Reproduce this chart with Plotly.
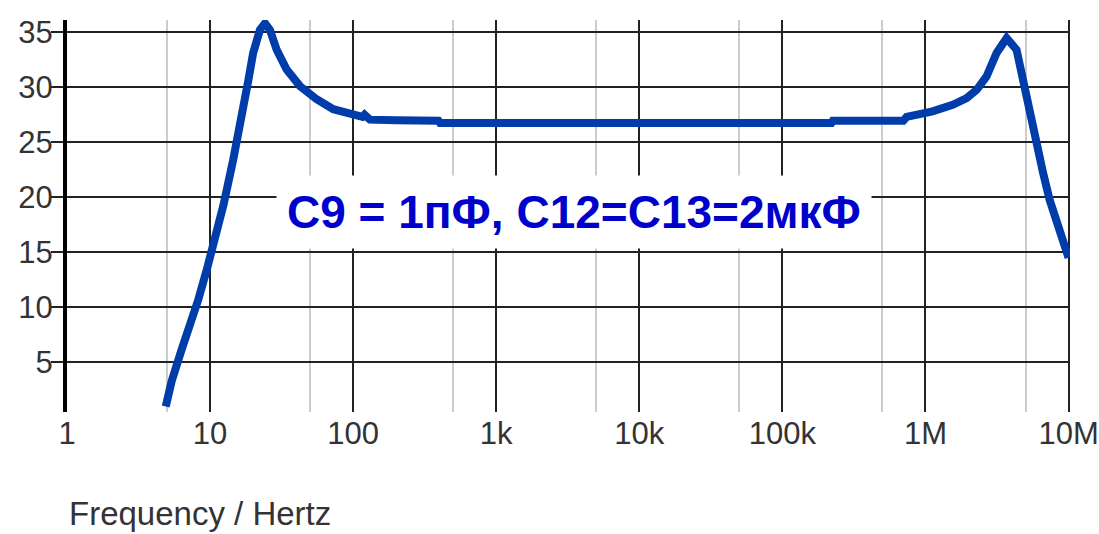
import math
import plotly.graph_objects as go

# Data (frequency in Hz, gain in dB)
freq_hz = [4.9, 5.39, 6.32, 7.24, 8.27, 9.47, 10.5, 12.4, 14.5, 16.2, 18.5, 20.0,
           22.3, 24.2, 26.2, 29.2, 34.3, 42.5, 55.6, 72.6, 95, 116, 120, 131, 200,
           395, 405, 1000, 1e4, 1e5, 2.2e5, 2.25e5, 7.0e5, 7.38e5, 1.12e6, 1.55e6,
           1.94e6, 2.28e6, 2.67e6, 3.14e6, 3.69e6, 4.33e6, 4.82e6, 5.37e6, 5.97e6,
           6.64e6, 7.4e6, 8.7e6, 1e7]
gain_db = [1.0, 3.3, 6.15, 8.3, 10.7, 13.4, 15.6, 19.3, 23.4, 26.4, 30.6, 33.1,
           35.2, 35.8, 35.2, 33.4, 31.6, 30.1, 28.9, 28.0, 27.5, 27.3, 27.5, 27.05,
           27.0, 26.95, 26.75, 26.75, 26.75, 26.75, 26.75, 26.95, 26.95, 27.3, 27.8,
           28.4, 29.0, 29.76, 30.97, 33.1, 34.45, 33.4, 30.4, 27.3, 24.9, 22.2, 19.7,
           17.0, 14.5]

x_tickvals = [1, 10, 100, 1e3, 1e4, 1e5, 1e6, 1e7]
x_ticktext = ["1", "10", "100", "1k", "10k", "100k", "1M", "10M"]
x_minorvals = [5, 50, 500, 5e3, 5e4, 5e5, 5e6]
y_tickvals = [5, 10, 15, 20, 25, 30, 35]

label_text = "C9 = 1пФ, C12=C13=2мкФ"
x_title = "Frequency / Hertz"

FONT = "Liberation Sans, Arial, sans-serif"

fig = go.Figure()
fig.add_trace(go.Scatter(
    x=freq_hz, y=gain_db, mode="lines",
    line=dict(color="#003DAA", width=8),
    hoverinfo="skip", showlegend=False,
))

fig.update_layout(
    width=1099, height=534,
    margin=dict(l=67, r=29, t=20, b=122, pad=0, autoexpand=False),
    paper_bgcolor="white", plot_bgcolor="white",
    font=dict(family=FONT, size=30, color="#333333"),
    showlegend=False,
    xaxis=dict(
        type="log", range=[0, 7.01], automargin=False,
        tickvals=x_tickvals, ticktext=x_ticktext,
        showgrid=True, gridcolor="#222222", gridwidth=2,
        ticks="", showline=False, zeroline=False,
        ticklabeloverflow="allow",
        tickfont=dict(size=31, color="#333333"),
        minor=dict(tickvals=x_minorvals, showgrid=True, gridcolor="#cccccc",
                   gridwidth=2, ticks=""),
    ),
    yaxis=dict(
        range=[0.5, 36.1], automargin=False,
        tickvals=y_tickvals,
        showgrid=True, gridcolor="#222222", gridwidth=2,
        ticks="outside", ticklen=12, tickwidth=2, tickcolor="#222222",
        ticklabelstandoff=-8,
        showline=True, linewidth=4, linecolor="black", zeroline=False,
        tickfont=dict(size=31, color="#333333"),
    ),
    annotations=[
        dict(x=math.log10(3500), y=18.68, xref="x", yref="y",
             text="<b>" + label_text + "</b>", showarrow=False,
             font=dict(family=FONT, size=46, color="#0000CC"),
             bgcolor="white", borderpad=10, xanchor="center", yanchor="middle"),
        dict(x=0, y=-0.258, xref="paper", yref="paper", text=x_title,
             showarrow=False, xanchor="left", yanchor="middle",
             font=dict(family=FONT, size=33, color="#333333")),
    ],
)

fig.write_html("out.html")
